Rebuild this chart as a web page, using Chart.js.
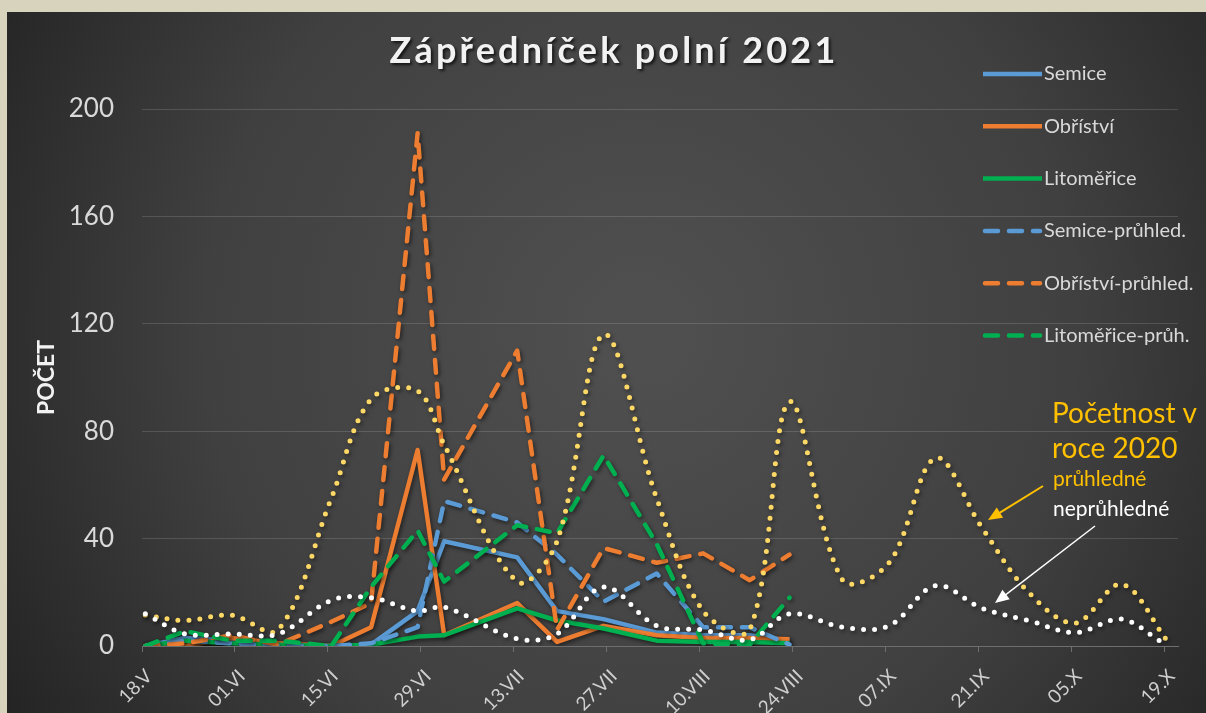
<!DOCTYPE html>
<html lang="cs">
<head>
<meta charset="utf-8">
<title>Zápředníček polní 2021</title>
<script src="https://cdn.jsdelivr.net/npm/chart.js@4.4.0/dist/chart.umd.min.js"></script>
<style>
  html, body { margin: 0; padding: 0; background: #d8d3bc; }
  #wrap { width: 1206px; height: 713px; }
</style>
</head>
<body>
<div id="wrap"><canvas id="chart" width="1206" height="713"></canvas></div>
<script>
// osa x = dny od 18.V (0 = 18.V)
const tickDays = [0, 14, 28, 42, 56, 70, 84, 98, 112, 126, 140, 154];
const tickLabels = ['18.V', '01.VI', '15.VI', '29.VI', '13.VII', '27.VII', '10.VIII', '24.VIII', '07.IX', '21.IX', '05.X', '19.X'];

// odběry 2021
const dates2021 = [0, 6, 13, 20, 28, 34, 41, 45, 56, 62, 69, 77, 84, 91, 97];
const semice = [0, 3, 2, 0, 0, 0.5, 13, 39, 33, 13, 10, 5, 4, 4, 2];
const obristi = [0, 0, 3, 1, 0, 7, 73, 4, 16, 1.5, 7.5, 4, 3, 3, 2.5];
const litomerice = [0, 2, 1, 0.5, 0, 0.5, 3.5, 4, 14, 9.5, 6.5, 2, 1.5, 1.5, 1];
const semicePruh = [0, 2, 1, 0, 0, 1, 7, 54, 46, 34, 16.5, 27, 7, 7, 0.5];
const obristiPruh = [0, 1, 4, 0.5, 9, 16, 191, 62, 110, 6, 36.5, 31, 34.5, 24.5, 34];
const litomericePruh = [0, 5.5, 2, 2, 0, 22, 43, 24, 45, 42, 71, 38, 1, 0.5, 18];

// početnost 2020
const datesPruh2020 = [0, 6, 13, 20, 28, 34, 41, 45, 56, 62, 69, 77, 84, 91, 97, 105, 112, 119, 126, 133, 140, 147, 154];
const pruhledne2020 = [11.5, 9.5, 11.5, 6, 55, 92, 95, 75, 24, 39, 116, 55, 13, 6, 91, 24.5, 31, 70, 44, 20, 8.5, 23, 1.5];
const datesNepruh2020 = [0, 6, 13, 20, 28, 34, 41, 45, 56, 62, 69, 77, 84, 91, 97, 105, 112, 119, 126, 133, 140, 147, 153];
const nepruhledne2020 = [12, 4.5, 4.5, 4.5, 17, 18, 13, 14.5, 2.7, 4.5, 22, 7.5, 6, 2.3, 12, 7, 7.5, 22.5, 14, 9.5, 5, 10, 1.5];

const BLUE = '#5b9bd5', ORANGE = '#ed7d31', GREEN = '#00b050';
const FONT = 'Lato, "Open Sans", sans-serif';

const pts = (days, vals) => days.map((d, i) => ({ x: d + 0.5, y: vals[i] }));

function line2021(label, color, vals, dashed, legendPos) {
    return {
        label: label,
        data: pts(dates2021, vals),
        borderColor: color,
        backgroundColor: color,
        borderWidth: 4.5,
        borderDash: dashed ? [13, 11] : [],
        borderCapStyle: dashed ? 'round' : 'butt',
        borderJoinStyle: 'round',
        tension: 0,
        pointRadius: 0,
        legendPos: legendPos
    };
}

function dotted(label, color, days, vals) {
    return {
        label: label,
        data: pts(days, vals),
        borderColor: color,
        borderWidth: 5,
        borderDash: [0, 11],
        borderCapStyle: 'round',
        tension: 0.35,
        pointRadius: 0
    };
}

// první v poli = kreslí se navrch
const datasets = [
    dotted('neprůhledné 2020', '#ffffff', datesNepruh2020, nepruhledne2020),
    dotted('průhledné 2020', '#ffd966', datesPruh2020, pruhledne2020),
    line2021('Litoměřice-průh.', GREEN, litomericePruh, true, 5),
    line2021('Obříství-průhled.', ORANGE, obristiPruh, true, 4),
    line2021('Semice-průhled.', BLUE, semicePruh, true, 3),
    line2021('Litoměřice', GREEN, litomerice, false, 2),
    line2021('Obříství', ORANGE, obristi, false, 1),
    line2021('Semice', BLUE, semice, false, 0)
];

// pozadí - béžový rám a tmavý gradient
const backgroundPlugin = {
    id: 'bg',
    beforeDraw(chart) {
        const ctx = chart.ctx;
        const w = chart.width, h = chart.height;
        ctx.save();
        ctx.fillStyle = '#d8d3bc';
        ctx.fillRect(0, 0, w, h);
        const g = ctx.createRadialGradient(640, 330, 40, 640, 330, 760);
        g.addColorStop(0, '#4f4f4f');
        g.addColorStop(0.55, '#404040');
        g.addColorStop(1, '#222222');
        ctx.fillStyle = g;
        ctx.fillRect(7, 12, w - 7, h - 12);
        ctx.restore();
    }
};

// stín pod čarami
const shadowPlugin = {
    id: 'lineShadow',
    beforeDatasetDraw(chart) {
        const ctx = chart.ctx;
        ctx.save();
        ctx.shadowColor = 'rgba(0,0,0,0.55)';
        ctx.shadowBlur = 4;
        ctx.shadowOffsetX = 1.5;
        ctx.shadowOffsetY = 2;
    },
    afterDatasetDraw(chart) {
        chart.ctx.restore();
    }
};

function arrow(ctx, x1, y1, x2, y2, color, width) {
    const a = Math.atan2(y2 - y1, x2 - x1);
    const len = 14, half = 6;
    ctx.strokeStyle = color;
    ctx.fillStyle = color;
    ctx.lineWidth = width;
    ctx.beginPath();
    ctx.moveTo(x1, y1);
    ctx.lineTo(x2 - Math.cos(a) * len * 0.8, y2 - Math.sin(a) * len * 0.8);
    ctx.stroke();
    ctx.beginPath();
    ctx.moveTo(x2, y2);
    ctx.lineTo(x2 - Math.cos(a) * len + Math.sin(a) * half, y2 - Math.sin(a) * len - Math.cos(a) * half);
    ctx.lineTo(x2 - Math.cos(a) * len - Math.sin(a) * half, y2 - Math.sin(a) * len + Math.cos(a) * half);
    ctx.closePath();
    ctx.fill();
}

// titulek, legenda a popisky 2020
const overlayPlugin = {
    id: 'overlay',
    afterDraw(chart) {
        const ctx = chart.ctx;
        ctx.save();

        // titulek
        ctx.font = 'bold 36px ' + FONT;
        ctx.letterSpacing = '3.2px';
        ctx.textAlign = 'center';
        ctx.textBaseline = 'alphabetic';
        ctx.shadowColor = 'rgba(0,0,0,0.7)';
        ctx.shadowBlur = 3;
        ctx.shadowOffsetX = 2;
        ctx.shadowOffsetY = 2;
        ctx.fillStyle = '#f2f2f2';
        ctx.fillText('Zápředníček polní 2021', 614, 63);
        ctx.letterSpacing = '0px';
        ctx.shadowColor = 'transparent';

        // legenda
        const items = chart.data.datasets
            .filter(d => d.legendPos !== undefined)
            .sort((a, b) => a.legendPos - b.legendPos);
        ctx.textAlign = 'left';
        ctx.textBaseline = 'middle';
        ctx.font = '20px ' + FONT;
        items.forEach((d, i) => {
            const y = 74 + i * 52.3;
            ctx.strokeStyle = d.borderColor;
            ctx.lineWidth = d.borderWidth;
            ctx.setLineDash(d.borderDash);
            ctx.lineCap = d.borderCapStyle;
            ctx.beginPath();
            ctx.moveTo(d.borderDash.length ? 985 : 983, y);
            ctx.lineTo(d.borderDash.length ? 1040 : 1042, y);
            ctx.stroke();
            ctx.setLineDash([]);
            ctx.fillStyle = '#d9d9d9';
            ctx.fillText(d.label, 1044, y);
        });

        // popisky k roku 2020
        ctx.textBaseline = 'alphabetic';
        ctx.fillStyle = '#ffc000';
        ctx.font = '28px ' + FONT;
        ctx.fillText('Početnost v', 1052, 423);
        ctx.fillText('roce 2020', 1052, 458);
        ctx.font = '21px ' + FONT;
        ctx.fillText('průhledné', 1053, 486);
        ctx.fillStyle = '#ffffff';
        ctx.fillText('neprůhledné', 1053, 516);

        ctx.lineCap = 'butt';
        arrow(ctx, 1043, 486, 988, 520, '#ffc000', 2);
        arrow(ctx, 1095, 526, 995, 603, '#ffffff', 1.5);

        ctx.restore();
    }
};

new Chart(document.getElementById('chart'), {
    type: 'line',
    data: { datasets: datasets },
    options: {
        responsive: false,
        animation: false,
        devicePixelRatio: 1,
        layout: { padding: { top: 109, right: 28, left: 0, bottom: 0 } },
        plugins: {
            legend: { display: false },
            title: { display: false },
            tooltip: { enabled: false }
        },
        scales: {
            x: {
                type: 'linear',
                min: 0,
                max: 156,
                afterFit: (scale) => { scale.height = 67; },
                afterBuildTicks: (scale) => {
                    scale.ticks = tickDays.map(v => ({ value: v }));
                },
                ticks: {
                    autoSkip: false,
                    minRotation: 45,
                    maxRotation: 45,
                    padding: 13,
                    labelOffset: 7,
                    color: '#cfcfcf',
                    font: { family: FONT, size: 19 },
                    callback: (v) => tickLabels[tickDays.indexOf(v)]
                },
                grid: {
                    drawOnChartArea: false,
                    drawTicks: true,
                    tickLength: 6,
                    color: '#6e6e6e'
                },
                border: { display: true, color: '#6e6e6e', width: 1 }
            },
            y: {
                min: 0,
                max: 200,
                afterFit: (scale) => { scale.width = 142; },
                ticks: {
                    stepSize: 40,
                    padding: 28,
                    color: '#d9d9d9',
                    font: { family: FONT, size: 26 }
                },
                grid: {
                    color: 'rgba(255,255,255,0.14)',
                    drawTicks: false
                },
                border: { display: false },
                title: {
                    display: true,
                    text: 'POČET',
                    color: '#f2f2f2',
                    padding: { top: 33, bottom: 0 },
                    font: { family: FONT, size: 23, weight: 'bold' }
                }
            }
        }
    },
    plugins: [backgroundPlugin, shadowPlugin, overlayPlugin]
});
</script>
</body>
</html>
